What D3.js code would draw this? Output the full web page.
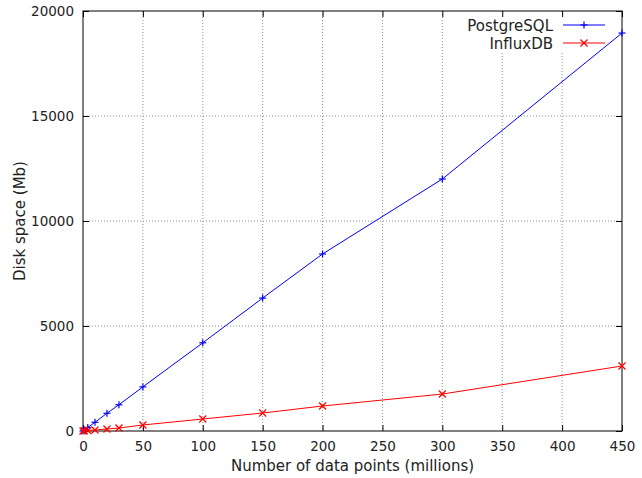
<!DOCTYPE html>
<html>
<head>
<meta charset="utf-8">
<script src="https://cdn.jsdelivr.net/npm/d3@7"></script>
<style>
body { margin: 0; background: #fff; }
text { font-family: "DejaVu Sans", sans-serif; fill: #222; }
</style>
</head>
<body>
<svg width="642" height="478"></svg>
<script>
var points = [0, 1, 4, 10, 20, 30, 50, 100, 150, 200, 300, 450];
var postgres = [0, 40, 170, 415, 845, 1250, 2100, 4200, 6330, 8430, 12000, 18950];
var influx = [0, 10, 25, 48, 95, 143, 286, 571, 857, 1190, 1760, 3095];
var xTicks = [0, 50, 100, 150, 200, 250, 300, 350, 400, 450];
var yTicks = [0, 5000, 10000, 15000, 20000];

var svg = d3.select("svg");
var pL = 83, pR = 622, pT = 11, pB = 431;

var x = d3.scaleLinear().domain([0, 450]).range([pL, pR]);
var y = d3.scaleLinear().domain([0, 20000]).range([pB, pT]);

// grid
svg.append("g").selectAll("line")
	.data(xTicks.slice(1, -1))
	.enter()
	.append("line")
	.attr("x1", d => x(d)).attr("x2", d => x(d))
	.attr("y1", pT).attr("y2", pB)
	.style("stroke", "#909090").style("stroke-width", 1)
	.style("stroke-dasharray", "1,2");
svg.append("g").selectAll("line")
	.data(yTicks.slice(1, -1))
	.enter()
	.append("line")
	.attr("x1", pL).attr("x2", pR)
	.attr("y1", d => y(d)).attr("y2", d => y(d))
	.style("stroke", "#909090").style("stroke-width", 1)
	.style("stroke-dasharray", "1,2");

// legend background hides grid
svg.append("rect")
	.attr("x", 458).attr("y", pT + 1)
	.attr("width", pR - 459).attr("height", 40)
	.style("fill", "#fff");

// axes with inward ticks on all sides
var tk = 6;
svg.append("g").attr("transform", `translate(0,${pB})`)
	.call(d3.axisBottom(x).tickValues(xTicks).tickSizeInner(-tk).tickSizeOuter(0).tickPadding(10));
svg.append("g").attr("transform", `translate(0,${pT})`)
	.call(d3.axisTop(x).tickValues(xTicks).tickSizeInner(-tk).tickSizeOuter(0).tickFormat(""));
svg.append("g").attr("transform", `translate(${pL},0)`)
	.call(d3.axisLeft(y).tickValues(yTicks).tickSizeInner(-tk).tickSizeOuter(0).tickPadding(9).tickFormat(d3.format("d")));
svg.append("g").attr("transform", `translate(${pR},0)`)
	.call(d3.axisRight(y).tickValues(yTicks).tickSizeInner(-tk).tickSizeOuter(0).tickFormat(""));
svg.selectAll(".domain").remove();
svg.selectAll(".tick line").style("stroke", "#000");
svg.selectAll(".tick text").style("font-size", "13.5px").style("font-family", "DejaVu Sans").style("fill", "#222");

svg.append("rect")
	.attr("x", pL).attr("y", pT)
	.attr("width", pR - pL).attr("height", pB - pT)
	.style("fill", "none").style("stroke", "#000").style("stroke-width", 1);

// series
var series = [
	{name: "PostgreSQL", values: postgres, color: "#0000ff", mark: "plus"},
	{name: "InfluxDB", values: influx, color: "#ff0000", mark: "cross"}
];
var s = 3.5;
function marker(g, cx, cy, kind, color) {
	var segs = kind == "plus"
		? [[cx - s, cy, cx + s, cy], [cx, cy - s, cx, cy + s]]
		: [[cx - s, cy - s, cx + s, cy + s], [cx - s, cy + s, cx + s, cy - s]];
	segs.forEach(function(p) {
		g.append("line")
			.attr("x1", p[0]).attr("y1", p[1]).attr("x2", p[2]).attr("y2", p[3])
			.style("stroke", color).style("stroke-width", 1.2);
	});
}

series.forEach(function(ser) {
	var line = d3.line().x((d, i) => x(points[i])).y(d => y(d));
	svg.append("path")
		.attr("d", line(ser.values))
		.style("fill", "none").style("stroke", ser.color).style("stroke-width", 1);
	var g = svg.append("g");
	ser.values.forEach(function(v, i) {
		marker(g, x(points[i]), y(v), ser.mark, ser.color);
	});
});

// legend
series.forEach(function(ser, i) {
	var ly = 25 + i * 18;
	svg.append("text")
		.attr("x", 553).attr("y", ly + 5.5)
		.attr("text-anchor", "end")
		.style("font-size", "15px")
		.text(ser.name);
	svg.append("line")
		.attr("x1", 563).attr("x2", 605)
		.attr("y1", ly).attr("y2", ly)
		.style("stroke", ser.color).style("stroke-width", 1);
	marker(svg, 584, ly, ser.mark, ser.color);
});

// axis labels
svg.append("text")
	.attr("x", (pL + pR) / 2).attr("y", 471)
	.attr("text-anchor", "middle")
	.style("font-size", "15px")
	.text("Number of data points (millions)");
svg.append("text")
	.attr("transform", "translate(25,221) rotate(-90)")
	.attr("text-anchor", "middle")
	.style("font-size", "15px")
	.text("Disk space (Mb)");
</script>
</body>
</html>
